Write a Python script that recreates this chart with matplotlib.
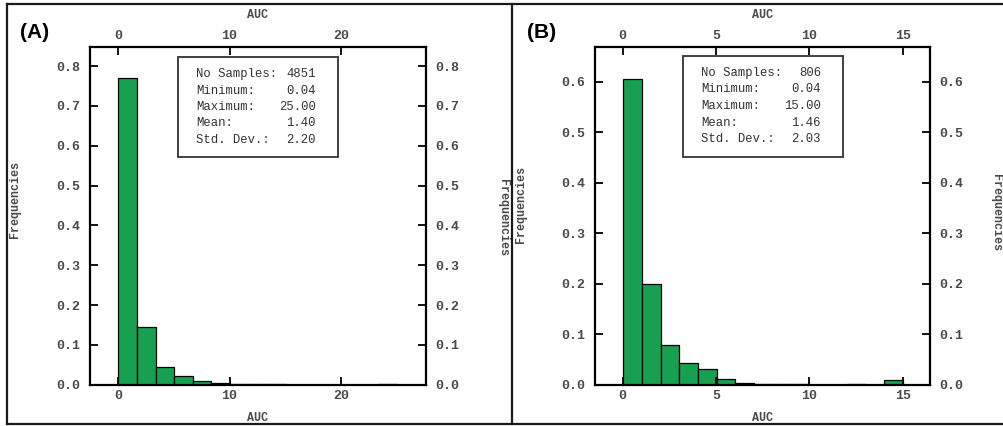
import numpy as np
import matplotlib
matplotlib.use("Agg")
from matplotlib import pyplot as plt
from matplotlib.lines import Line2D
from matplotlib.patches import Rectangle

# histogram frequencies, 15 equal bins between the min and max of each sample
freq_a = [0.770, 0.145, 0.044, 0.021, 0.009, 0.004, 0.002, 0.001,
          0.0007, 0.0005, 0.0003, 0.0002, 0.0, 0.0, 0.0012]
freq_b = [0.606, 0.199, 0.079, 0.043, 0.032, 0.011, 0.004, 0.002,
          0.0005, 0.0015, 0.0, 0.0, 0.0012, 0.0, 0.010]

stat_names = ["No Samples:", "Minimum:", "Maximum:", "Mean:", "Std. Dev.:"]
stats_a = ["4851", "0.04", "25.00", "1.40", "2.20"]
stats_b = ["806", "0.04", "15.00", "1.46", "2.03"]

xticks_a = [0, 10, 20]
xticks_b = [0, 5, 10, 15]
yticks_a = [0.0, 0.1, 0.2, 0.3, 0.4, 0.5, 0.6, 0.7, 0.8]
yticks_b = [0.0, 0.1, 0.2, 0.3, 0.4, 0.5, 0.6]

W, H = 1004, 426
mono = "Liberation Mono"
tick_col = "#4a4a4a"
bar_col = "#17a04f"

fig = plt.figure(figsize=(W / 100, H / 100), dpi=100)


def px(x, y):
    return x / W, 1 - y / H


def panel(left, right, freqs, stats, xticks, yticks, xlim, ylim, box, letter, letter_x):
    x0, y1 = px(left, 47)
    x1, y0 = px(right, 384.7)
    ax = fig.add_axes([x0, y0, x1 - x0, y1 - y0])

    lo, hi = float(stats[1]), float(stats[2])
    edges = np.linspace(lo, hi, len(freqs) + 1)
    ax.bar(edges[:-1], freqs, width=np.diff(edges), align="edge",
           color=bar_col, edgecolor="black", linewidth=0.9)

    ax.set_xlim(*xlim)
    ax.set_ylim(*ylim)
    ax.set_xticks(xticks)
    ax.set_yticks(yticks)
    ax.set_yticklabels([f"{v:.1f}" for v in yticks])
    ax.tick_params(axis="both", direction="in", length=6, width=1.3,
                   top=True, right=True, labeltop=True, labelright=True,
                   labelsize=9.5, labelcolor=tick_col)
    ax.tick_params(axis="y", pad=7)
    ax.tick_params(axis="x", pad=3.5)
    for lab in ax.get_xticklabels() + ax.get_yticklabels():
        lab.set_fontfamily(mono)
        lab.set_fontweight("bold")
    for sp in ax.spines.values():
        sp.set_linewidth(1.6)

    # stats box
    bx0, by0, bx1, by1 = box
    ax.add_patch(Rectangle(px(bx0, by1), (bx1 - bx0) / W, (by1 - by0) / H,
                           transform=fig.transFigure, facecolor="white",
                           edgecolor="#333333", linewidth=1.3, zorder=5))
    for i, (name, val) in enumerate(zip(stat_names, stats)):
        yy = by0 + 17 + i * 16.5
        fig.text(*px(bx0 + 18, yy), name, family=mono, fontsize=8.8,
                 color="#333333", ha="left", va="center", zorder=6)
        fig.text(*px(bx1 - 22, yy), val, family=mono, fontsize=8.8,
                 color="#333333", ha="right", va="center", zorder=6)

    mid = (left + right) / 2
    fig.text(*px(mid, 15), "AUC", family=mono, fontsize=8.5, weight="bold",
             color=tick_col, ha="center", va="center")
    fig.text(*px(mid, 418), "AUC", family=mono, fontsize=8.5, weight="bold",
             color=tick_col, ha="center", va="center")
    fig.text(*px(letter_x, 33), letter, family="Liberation Sans",
             fontsize=15, weight="bold", ha="left", va="center")
    return ax


panel(90, 426, freq_a, stats_a, xticks_a, yticks_a, (-2.5, 27.6), (0, 0.848),
      (178, 57, 338, 157), "(A)", 20)
panel(595, 930, freq_b, stats_b, xticks_b, yticks_b, (-1.48, 16.45), (0, 0.669),
      (683, 56, 843, 157), "(B)", 527)

# y labels on both sides of each panel
for x, y, rot in [(15, 200, 90), (503, 218, 270), (521, 205, 90), (996, 212, 270)]:
    fig.text(*px(x, y), "Frequencies", family=mono, fontsize=8.5, weight="bold",
             color=tick_col, rotation=rot, ha="center", va="center")

# outer frame and divider
frame = dict(color="#1a1a1a", linewidth=1.6, transform=fig.transFigure)
for (xa, ya), (xb, yb) in [((7, 4), (1004, 4)), ((7, 424), (1004, 424)),
                           ((7, 4), (7, 424)), ((512, 4), (512, 424))]:
    fig.add_artist(Line2D([xa / W, xb / W], [1 - ya / H, 1 - yb / H], **frame))

fig.savefig("out.png", dpi=100)
